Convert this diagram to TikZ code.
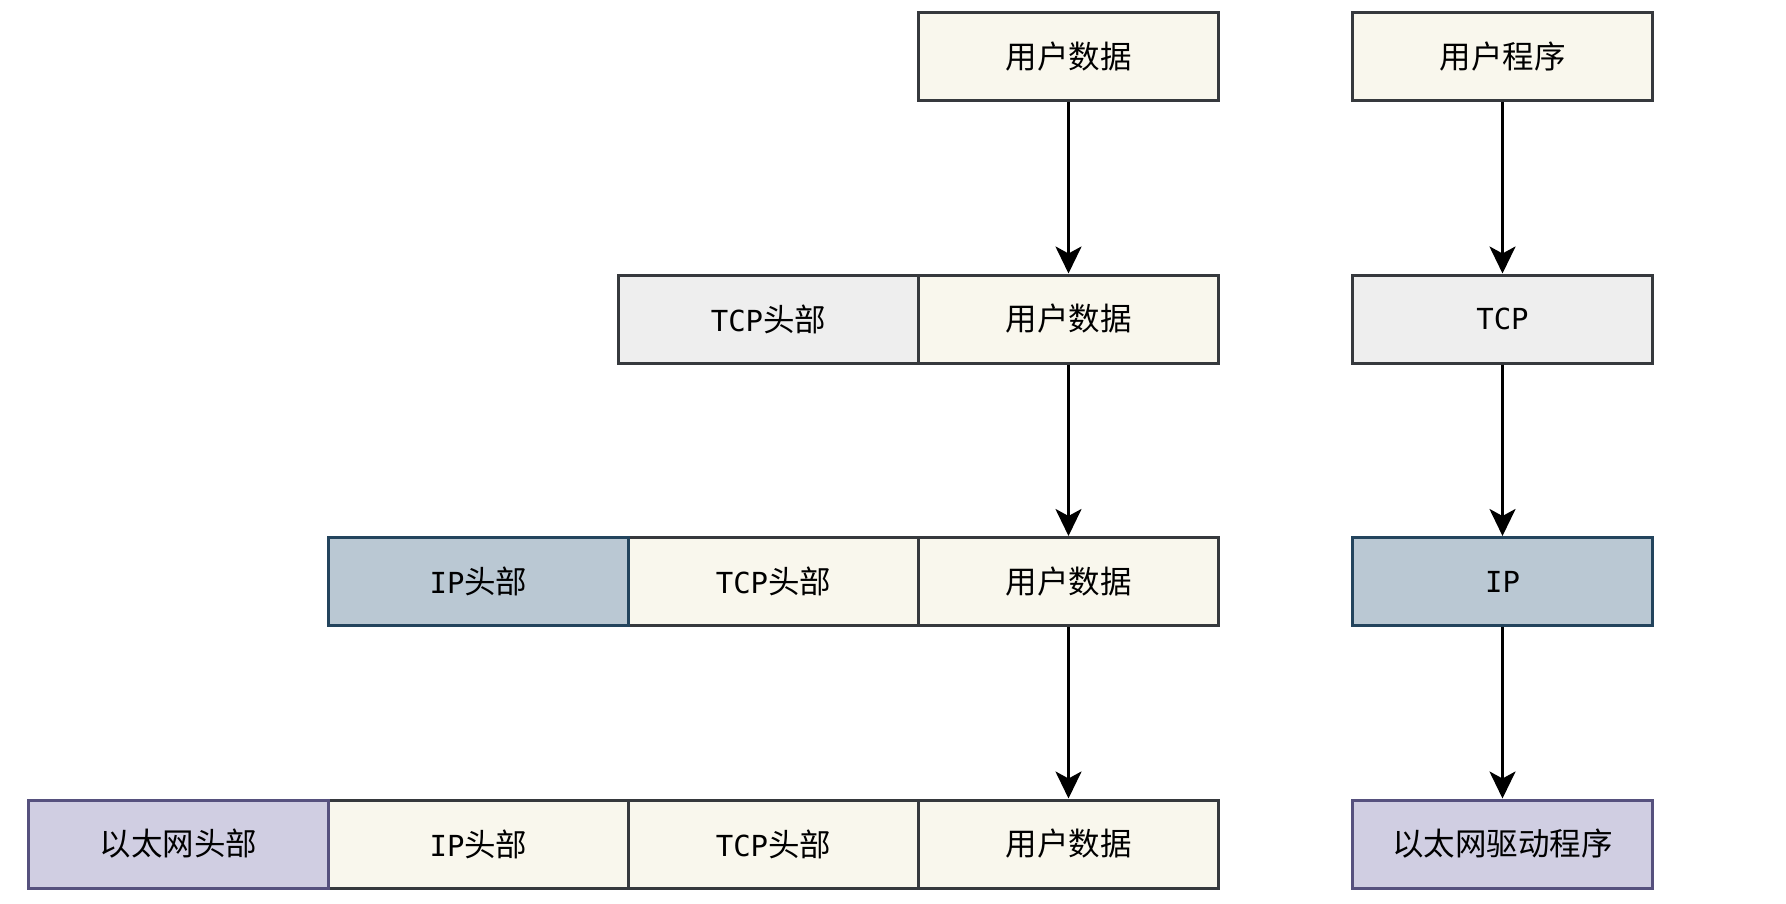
\documentclass[tikz,border=0pt]{standalone}
\usepackage{fontspec}
\setmainfont{Noto Sans CJK SC}
\newfontfamily\lat[Scale=0.92]{DejaVu Sans Mono}
\usetikzlibrary{arrows.meta}
\definecolor{datafill}{HTML}{F9F7ED}
\definecolor{datadraw}{HTML}{36393D}
\definecolor{tcpfill}{HTML}{EEEEEE}
\definecolor{ipfill}{HTML}{BAC8D3}
\definecolor{ipdraw}{HTML}{23445D}
\definecolor{ethfill}{HTML}{D0CEE2}
\definecolor{ethdraw}{HTML}{56517E}
\begin{document}
\begin{tikzpicture}[x=1pt,y=-1pt,
  box/.style={draw=datadraw, fill=datafill, line width=3pt, minimum height=88pt, inner sep=0pt, anchor=north west, font=\fontsize{31.5}{38}\selectfont},
  w300/.style={minimum width=300pt},
  w290/.style={minimum width=290pt},
  tcpbox/.style={box, fill=tcpfill},
  ipbox/.style={box, fill=ipfill, draw=ipdraw},
  ethbox/.style={box, fill=ethfill, draw=ethdraw},
  arr/.style={line width=3pt, -{Stealth[length=27pt, width=26pt, inset=7pt]}}
]
\useasboundingbox (0,0) rectangle (1786,904);
% row 1
\node[box, w300] (d1) at (917,11) {用户数据};
\node[box, w300] (r1) at (1351,11) {用户程序};
% row 2
\node[box, w300] (d2) at (917,273.5) {用户数据};
\node[tcpbox, w300] (t2) at (617,273.5) {{\lat TCP}头部};
\node[tcpbox, w300] (r2) at (1351,273.5) {\lat TCP};
% row 3
\node[box, w300] (d3) at (917,536) {用户数据};
\node[box, w290] (t3) at (627,536) {{\lat TCP}头部};
\node[ipbox, w300] (i3) at (327,536) {{\lat IP}头部};
\node[ipbox, w300] (r3) at (1351,536) {\lat IP};
% row 4
\node[box, w300] (d4) at (917,798.5) {用户数据};
\node[box, w290] (t4) at (627,798.5) {{\lat TCP}头部};
\node[box, w300] (i4) at (327,798.5) {{\lat IP}头部};
\node[ethbox, w300] (e4) at (27,798.5) {以太网头部};
\node[ethbox, w300] (r4) at (1351,798.5) {以太网驱动程序};
% arrows
\draw[arr] (d1.south) -- (d2.north);
\draw[arr] (d2.south) -- (d3.north);
\draw[arr] (d3.south) -- (d4.north);
\draw[arr] (r1.south) -- (r2.north);
\draw[arr] (r2.south) -- (r3.north);
\draw[arr] (r3.south) -- (r4.north);
\end{tikzpicture}
\end{document}
